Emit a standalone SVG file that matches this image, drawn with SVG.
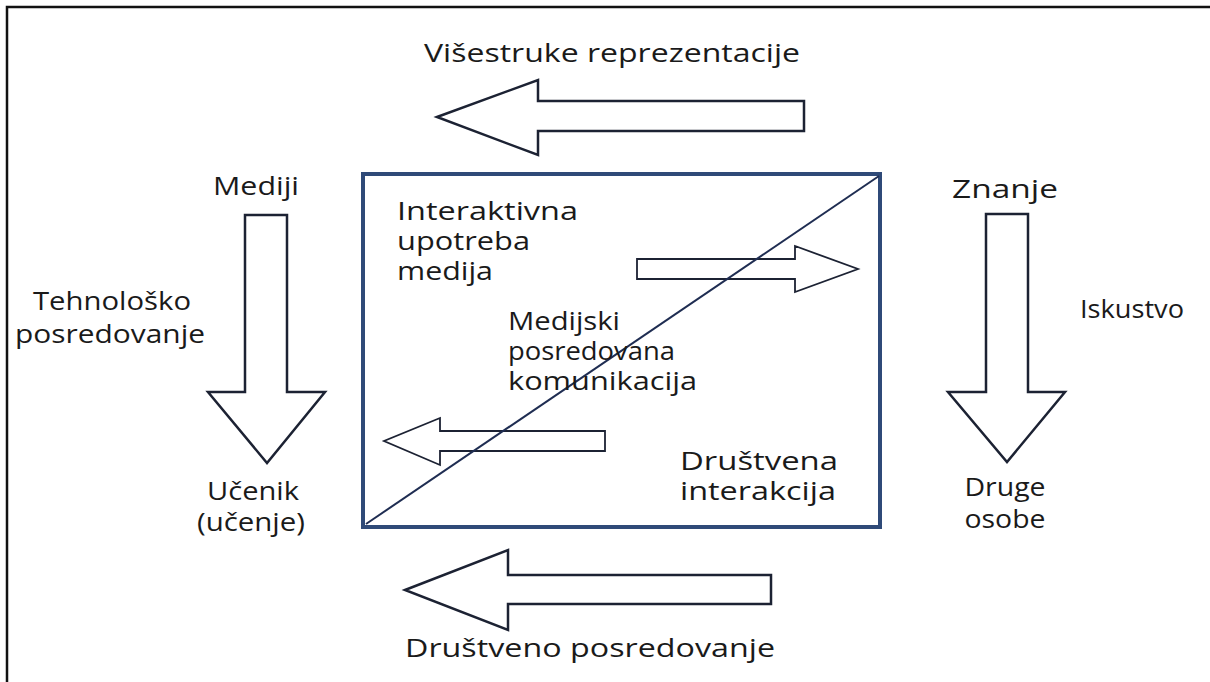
<svg xmlns="http://www.w3.org/2000/svg" width="1210" height="682" viewBox="0 0 1210 682">
<style>
.t{font-family:"Open Sans","Liberation Sans",sans-serif;font-size:26px;fill:#1a1a1a}
.c{text-anchor:middle}
.arr{fill:#fff;stroke:#1c2233;stroke-width:2.5;stroke-linejoin:miter}
.box{fill:none;stroke:#2f4a78;stroke-width:4}
.diag{stroke:#1f2d52;stroke-width:2}
.frame{stroke:#111;stroke-width:2.5;fill:none}
</style>
<rect width="1210" height="682" fill="#fff"/>
<path class="frame" d="M7 682 V7 H1210"/>
<g id="connectors">
<polygon id="arrow-top" class="arr" points="437,117 538,80 538,101 804,101 804,131 538,131 538,155"/>
<polygon id="arrow-bottom" class="arr" points="405,590 508,550 508,575 771,575 771,604 508,604 508,630"/>
<polygon id="arrow-left" class="arr" points="245,215 287,215 287,392 325,392 267,463 208,392 245,392"/>
<polygon id="arrow-right" class="arr" points="986,214 1028,214 1028,392 1065,392 1007,462 948,392 986,392"/>
<polygon id="arrow-inner-right" class="arr" style="stroke-width:1.8" points="637,259 795,259 795,246 858,269 795,292 795,279 637,279"/>
<polygon id="arrow-inner-left" class="arr" style="stroke-width:1.8" points="605,431 440,431 440,418 384,441 440,465 440,451 605,451"/>
</g>
<g id="box">
<rect class="box" x="363" y="174" width="517" height="353"/>
<line class="diag" x1="366" y1="524" x2="879" y2="176"/>
</g>
<g id="label-top"><text class="t" x="424" y="62" textLength="376" lengthAdjust="spacingAndGlyphs">Višestruke reprezentacije</text></g>
<g id="label-mediji"><text class="t c" x="256" y="195" textLength="86" lengthAdjust="spacingAndGlyphs">Mediji</text></g>
<g id="label-tehnolosko"><text class="t c" x="112" y="310" textLength="158" lengthAdjust="spacingAndGlyphs">Tehnološko</text><text class="t c" x="110" y="343" textLength="190" lengthAdjust="spacingAndGlyphs">posredovanje</text></g>
<g id="label-ucenik"><text class="t c" x="253" y="500" textLength="92" lengthAdjust="spacingAndGlyphs">Učenik</text><text class="t c" x="251" y="531" textLength="108" lengthAdjust="spacingAndGlyphs">(učenje)</text></g>
<g id="label-znanje"><text class="t" x="952" y="198" textLength="106" lengthAdjust="spacingAndGlyphs">Znanje</text></g>
<g id="label-iskustvo"><text class="t" x="1080" y="318" textLength="104" lengthAdjust="spacingAndGlyphs">Iskustvo</text></g>
<g id="label-druge"><text class="t c" x="1005" y="496" textLength="81" lengthAdjust="spacingAndGlyphs">Druge</text><text class="t c" x="1005" y="528" textLength="81" lengthAdjust="spacingAndGlyphs">osobe</text></g>
<g id="label-interaktivna"><text class="t" x="397" y="220" textLength="181" lengthAdjust="spacingAndGlyphs">Interaktivna</text><text class="t" x="397" y="250" textLength="133" lengthAdjust="spacingAndGlyphs">upotreba</text><text class="t" x="397" y="280" textLength="96" lengthAdjust="spacingAndGlyphs">medija</text></g>
<g id="label-medijski"><text class="t" x="508" y="330" textLength="112" lengthAdjust="spacingAndGlyphs">Medijski</text><text class="t" x="508" y="360" textLength="167" lengthAdjust="spacingAndGlyphs">posredovana</text><text class="t" x="508" y="390" textLength="189" lengthAdjust="spacingAndGlyphs">komunikacija</text></g>
<g id="label-drustvena"><text class="t" x="680" y="470" textLength="158" lengthAdjust="spacingAndGlyphs">Društvena</text><text class="t" x="680" y="500" textLength="156" lengthAdjust="spacingAndGlyphs">interakcija</text></g>
<g id="label-bottom"><text class="t" x="405" y="657" textLength="370" lengthAdjust="spacingAndGlyphs">Društveno posredovanje</text></g>
</svg>
